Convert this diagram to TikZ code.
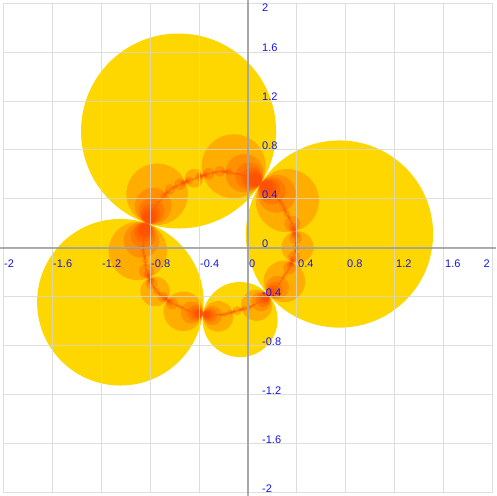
\documentclass[tikz,border=0pt]{standalone}
\usepackage{fontspec}
\setmainfont{Liberation Sans}
\definecolor{disk}{HTML}{FFD700}
\definecolor{ember}{HTML}{FF4500}
\definecolor{gridgray}{HTML}{D6D6D6}
\definecolor{axisgray}{HTML}{9A9A9A}
\definecolor{ticklabel}{HTML}{1414E6}

\def\CX{{-0.567,0.747,-0.065,-1.0415}}
\def\CY{{0.955,0.114,-0.584,-0.4427}}
\def\CR{{0.796,0.7641,0.3067,0.68}}
\def\maxlevel{8}

\tikzset{
  basedisk/.style={fill=disk},
  imagedisk/.style={fill=ember, fill opacity=0.28},
  gridline/.style={gridgray, line width=1pt, opacity=0.8},
  axisline/.style={axisgray, line width=1.5pt, opacity=0.8},
  ticktext/.style={ticklabel, inner sep=0pt, font=\fontsize{11pt}{13pt}\selectfont}
}

\newcommand{\mirrorall}[5]{%
  \foreach \k in {0,1,2,3}{%
    \ifnum\k=#1\relax\else
      \pgfmathsetmacro\mx{\CX[\k]}%
      \pgfmathsetmacro\my{\CY[\k]}%
      \pgfmathsetmacro\mr{\CR[\k]}%
      \pgfmathsetmacro\dx{(#2)-(\mx)}%
      \pgfmathsetmacro\dy{(#3)-(\my)}%
      \pgfmathsetmacro\s{(\mr)*(\mr)/((\dx)*(\dx)+(\dy)*(\dy)-(#4)*(#4))}%
      \pgfmathsetmacro\nx{\mx+(\s)*(\dx)}%
      \pgfmathsetmacro\ny{\my+(\s)*(\dy)}%
      \pgfmathsetmacro\nr{(\s)*(#4)}%
      \fill[imagedisk] (\nx,\ny) circle [radius=\nr];
      \ifnum#5<\maxlevel\relax
        \ifdim\nr pt>0.003pt
          \edef\next{\noexpand\mirrorall{\k}{\nx}{\ny}{\nr}{\the\numexpr#5+1\relax}}\next
        \fi
      \fi
    \fi}}

\begin{document}
\begin{tikzpicture}[x=122.5pt, y=122.5pt]
\useasboundingbox (-2.0245,-2.0245) rectangle (2.0245,2.0245);
\foreach \j in {0,1,2,3}{
  \pgfmathsetmacro\bx{\CX[\j]}
  \pgfmathsetmacro\by{\CY[\j]}
  \pgfmathsetmacro\br{\CR[\j]}
  \fill[basedisk] (\bx,\by) circle [radius=\br];
}
\foreach \j in {0,1,2,3}{
  \pgfmathsetmacro\bx{\CX[\j]}
  \pgfmathsetmacro\by{\CY[\j]}
  \pgfmathsetmacro\br{\CR[\j]}
  \edef\next{\noexpand\mirrorall{\j}{\bx}{\by}{\br}{2}}\next
}
\draw[gridline] (-2.001,-2.001) grid [step=0.4] (2.001,2.001);
\draw[axisline] (-2.0245,0) -- (2.0245,0);
\draw[axisline] (0,-2.0245) -- (0,2.0245);
\foreach \v in {-2,-1.6,-1.2,-0.8,-0.4,0,0.4,0.8,1.2,1.6}
  \node[ticktext, anchor=base west, xshift=1pt, yshift=-20pt] (xl\v) at (\v,0) {\v};
\node[ticktext, anchor=base east, xshift=-3pt, yshift=-20pt] (xl2) at (2,0) {2};
\foreach \v in {-2,-1.6,-1.2,-0.8,-0.4,0,0.4,0.8,1.2,1.6}
  \node[ticktext, anchor=base west, xshift=14pt, yshift=0.5pt] (yl\v) at (0,\v) {\v};
\node[ticktext, anchor=base west, xshift=14pt, yshift=-9pt] (yl2) at (0,2) {2};
\end{tikzpicture}
\end{document}
